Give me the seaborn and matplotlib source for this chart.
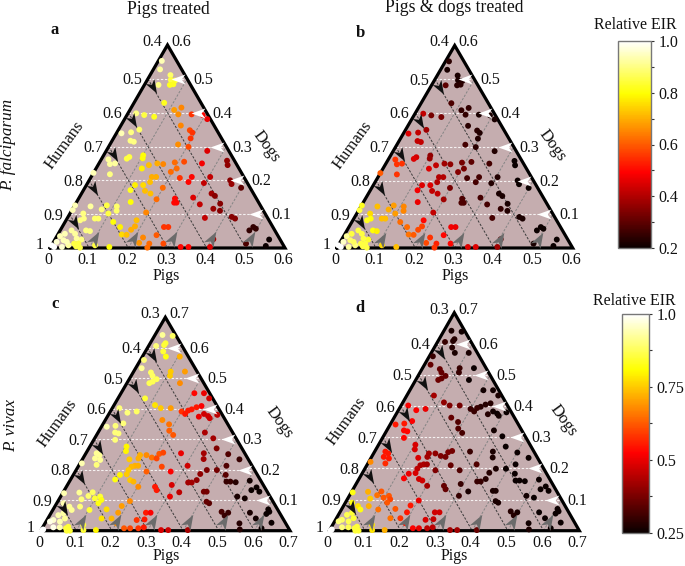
import numpy as np
import matplotlib
matplotlib.use("Agg")
import matplotlib.pyplot as plt
from matplotlib.path import Path
from matplotlib.markers import MarkerStyle
from matplotlib.transforms import Affine2D
from matplotlib.colors import Normalize
from matplotlib.cm import ScalarMappable
from matplotlib.ticker import FixedLocator
import seaborn as sns

top_pigs = [.009,.017,.052,.06,.072,.065,.073,.036,.077,.113,
 .128,.13,.164,.193,.211,.044,.072,.021,.153,.183,
 .193,.197,.013,.036,.047,.057,.053,.101,.104,.068,
 .064,.174,.204,.258,.323,.331,.263,.215,.192,.206,
 .165,.149,.13,.117,.196,.018,.029,.041,.044,0,
 .155,.166,.158,.124,.145,.228,.257,.256,.304,.297,
 .36,.369,.399,.199,.158,.176,.2,.246,.256,.25,
 .291,.332,.344,.318,.359,.379,.369,.12,.138,.109,
 .115,.082,.075,.042,.001,.034,.043,.08,.071,.098,
 .123,.148,.18,.193,.351,.418,.429,.488,.483,.497,
 .547,.548,.26,.271,.185,.18,.163,.176,.222,.253,
 .247,.22,.248,.283,.332,.352,.407,.404,.494,.15,
 .111,.066,.077,.068,.008,.008,.023,.029,.043,.054,
 .066,.076,.064,.055,0,.009,.043,.029,.017,.034,
 .002,.036]
top_dogs = [.553,.528,.511,.497,.495,.482,.484,.482,.429,.408,
 .415,.395,.395,.393,.381,.393,.388,.398,.362,.348,
 .341,.324,.339,.342,.317,.314,.35,.274,.265,.269,
 .264,.306,.299,.287,.258,.245,.25,.255,.253,.235,
 .248,.25,.245,.235,.225,.262,.248,.25,.218,.222,
 .21,.21,.195,.186,.186,.207,.21,.195,.21,.192,
 .2,.189,.178,.178,.169,.161,.144,.146,.134,.134,
 .149,.161,.154,.129,.116,.11,.131,.171,.136,.123,
 .11,.126,.114,.123,.126,.102,.087,.087,.087,.102,
 .077,.062,.082,.105,.089,.092,.087,.062,.052,.057,
 .025,.006,.062,.062,.064,.054,.04,.039,.031,.038,
 .013,.015,.001,.013,.003,.003,.003,.026,.013,.003,
 .008,.052,.05,.025,.035,.018,.023,.052,.042,.028,
 .013,.001,.005,.013,.008,.003,.008,.003,.042,.018,
 .112,.082]
eir_a = [.94,.92,.88,.85,.84,.82,.82,.9,.82,.68,
 .65,.66,.55,.5,.47,.85,.82,.9,.65,.58,
 .55,.55,.94,.9,.9,.9,.88,.8,.8,.85,
 .85,.66,.58,.45,.36,.36,.48,.58,.62,.62,
 .65,.7,.72,.78,.62,.92,.92,.92,.9,.94,
 .7,.7,.72,.78,.75,.55,.5,.5,.42,.42,
 .35,.37,.3,.62,.72,.72,.62,.5,.5,.5,
 .45,.38,.35,.42,.37,.35,.35,.82,.8,.88,
 .88,.85,.89,.92,.94,.9,.9,.88,.88,.85,
 .8,.78,.72,.65,.42,.35,.35,.25,.25,.25,
 .2,.2,.55,.55,.7,.7,.75,.72,.65,.6,
 .62,.67,.62,.58,.5,.5,.45,.38,.28,.8,
 .85,.9,.9,.9,.94,.96,.94,.92,.92,.92,
 .85,.85,.85,.85,1,1,.92,.96,.94,.94,
 .94,.9]
eir_b = [.24,.22,.22,.22,.23,.24,.24,.3,.28,.25,
 .25,.25,.22,.22,.22,.33,.33,.42,.24,.24,
 .23,.23,.45,.42,.42,.42,.38,.36,.37,.44,
 .45,.27,.24,.23,.2,.2,.27,.3,.33,.33,
 .36,.38,.42,.45,.35,.55,.55,.55,.55,.6,
 .4,.4,.4,.45,.45,.27,.27,.27,.23,.23,
 .2,.2,.2,.33,.42,.42,.38,.28,.28,.28,
 .27,.22,.22,.27,.25,.23,.22,.48,.47,.65,
 .65,.68,.7,.72,.82,.75,.8,.72,.72,.68,
 .62,.62,.5,.42,.27,.22,.22,.2,.2,.2,
 .2,.2,.48,.47,.57,.58,.63,.6,.55,.5,
 .53,.58,.55,.5,.45,.45,.38,.3,.22,.72,
 .75,.8,.78,.83,.92,.95,.88,.85,.85,.85,
 .85,.85,.85,.85,1,1,.9,.92,.85,.87,
 .85,.82]

bottom_pigs = [.021,.051,.021,.043,.042,.05,.066,.105,.01,.017,
 .05,.06,.077,.07,.063,.104,.109,.144,.149,.206,
 .233,.256,.247,.235,.225,.217,.2,.214,.267,.282,
 .29,.306,.257,.076,.115,.136,.164,.02,.05,.074,
 .056,.015,.038,.048,.059,.06,.16,.186,.197,.215,
 .3,.333,.359,.103,.109,.03,.041,.051,.034,.049,
 .005,.155,.173,.192,.207,.216,.207,.132,.156,.267,
 .331,.34,.401,.441,.415,.158,.167,.15,.147,.235,
 .2,.306,.355,.367,.395,.428,.268,.131,.149,.125,
 .168,.18,.202,.259,.249,.293,.335,.345,.355,.326,
 .394,.402,.441,.452,.468,.505,.535,.55,.525,.52,
 .496,.428,.418,.307,.083,.004,.046,.077,.063,.099,
 .111,.12,.117,.187,.188,.202,.15,.103,.071,.041,
 .019,.053,.035,.024,.048,.039,.018,.011,.03,.048,
 .071,.073,.082,.067,.005,.003,.11,.119,.154,.151,
 .179,.201,.23,.247,.252,.266,.279,.273,.27,.284,
 .337,.357,.412,.477,.497,.492,.557,.558,.584,.616,
 .635,.611,.604,.606,.546]
bottom_dogs = [.642,.639,.606,.615,.609,.588,.571,.571,.56,.533,
 .519,.508,.497,.489,.484,.522,.508,.522,.484,.451,
 .451,.434,.409,.405,.398,.394,.391,.383,.383,.376,
 .369,.38,.374,.434,.412,.402,.402,.402,.387,.391,
 .352,.341,.344,.322,.319,.298,.363,.349,.328,.314,
 .322,.303,.27,.276,.261,.254,.248,.232,.237,.216,
 .221,.248,.248,.24,.252,.256,.237,.234,.237,.254,
 .254,.235,.251,.234,.213,.213,.213,.21,.199,.21,
 .194,.213,.186,.199,.199,.183,.194,.183,.185,.168,
 .166,.161,.144,.133,.144,.15,.158,.158,.166,.126,
 .128,.128,.161,.161,.159,.164,.142,.128,.133,.106,
 .112,.09,.095,.112,.126,.123,.125,.114,.103,.106,
 .112,.101,.09,.081,.059,.097,.07,.068,.079,.079,
 .09,.068,.057,.051,.04,.03,.035,.03,.011,.011,
 .013,0,0,.008,.004,0,.019,.002,.002,.04,
 .04,.024,.008,.008,.035,.059,.059,.037,.008,.011,
 .002,.002,.002,.062,.059,.049,.004,.059,.04,.008,
 .026,.062,.07,.055,.024]
eir_c = [.92,.88,.9,.85,.85,.85,.82,.72,.9,.92,
 .88,.88,.87,.87,.87,.75,.75,.7,.68,.53,
 .5,.47,.52,.55,.55,.55,.58,.55,.47,.47,
 .47,.45,.5,.85,.78,.75,.7,.9,.9,.88,
 .9,.94,.9,.9,.9,.9,.68,.65,.63,.62,
 .43,.42,.38,.8,.8,.92,.92,.92,.92,.9,
 .94,.72,.68,.65,.62,.6,.6,.75,.72,.5,
 .42,.42,.33,.3,.33,.72,.72,.73,.75,.6,
 .63,.47,.4,.38,.37,.34,.52,.8,.75,.82,
 .75,.73,.68,.55,.55,.48,.42,.42,.4,.45,
 .37,.37,.3,.3,.28,.26,.25,.25,.25,.26,
 .27,.34,.35,.5,.88,.94,.92,.89,.9,.85,
 .85,.82,.82,.7,.7,.68,.77,.85,.9,.92,
 .94,.92,.93,.94,.92,.94,.96,.98,.98,.94,
 .85,.85,.85,.85,1,1,.85,.85,.8,.78,
 .73,.68,.62,.6,.58,.55,.52,.55,.58,.55,
 .48,.47,.42,.32,.3,.3,.28,.27,.26,.25,
 .25,.25,.25,.25,.28]
eir_d = [.27,.26,.3,.28,.28,.28,.27,.27,.3,.35,
 .35,.35,.35,.35,.36,.3,.3,.25,.25,.26,
 .26,.27,.28,.28,.28,.3,.3,.3,.26,.25,
 .26,.25,.28,.42,.4,.38,.37,.52,.52,.5,
 .52,.55,.55,.53,.53,.53,.35,.33,.33,.32,
 .26,.25,.25,.48,.48,.55,.55,.55,.55,.57,
 .68,.42,.4,.38,.38,.37,.37,.48,.42,.3,
 .27,.27,.25,.25,.25,.43,.42,.43,.45,.35,
 .38,.33,.28,.27,.25,.25,.33,.5,.48,.52,
 .47,.47,.42,.35,.35,.3,.3,.3,.28,.27,
 .27,.27,.25,.25,.25,.25,.25,.25,.25,.25,
 .26,.27,.27,.3,.62,.82,.72,.65,.75,.62,
 .62,.6,.62,.55,.55,.5,.62,.65,.72,.78,
 .82,.82,.85,.87,.85,.87,.88,.9,.9,.87,
 .85,.85,.85,.85,1,1,.78,.78,.72,.65,
 .58,.55,.52,.5,.48,.47,.47,.46,.45,.45,
 .42,.42,.35,.28,.27,.28,.27,.25,.25,.25,
 .25,.25,.25,.25,.26]

species = ["P. falciparum", "P. vivax"]
treatments = ["Pigs treated", "Pigs & dogs treated"]

W, H = 685, 566
sns.set_theme(style="white")
plt.rcParams["font.family"] = ["Liberation Serif", "DejaVu Serif"]
fig = plt.figure(figsize=(W / 100, H / 100), dpi=100, facecolor="white")

FILL = "#C5ADAF"
HEAD = Path([(1, 0), (-1, .72), (-.45, 0), (-1, -.72), (1, 0)],
            [Path.MOVETO, Path.LINETO, Path.LINETO, Path.LINETO, Path.CLOSEPOLY])


def head(angle):
    return MarkerStyle(HEAD, transform=Affine2D().rotate_deg(angle))


def panel(bl, br, top_y, S, pigs, dogs, eir, norm, tag, tag_xy):
    left, right = bl[0], br
    ax = fig.add_axes([left / W, 1 - bl[1] / H, (right - left) / W, (bl[1] - top_y) / H])
    ax.set_xlim(0, S)
    ax.set_ylim(0, S)
    ax.set_axis_off()
    xf = lambda p, d: p + d / 2
    ax.fill([0, S, S / 2], [0, 0, S], color=FILL, zorder=0, lw=0)
    unit = (right - left) / S
    n = int(round(S * 10))
    for i in range(1, n):
        v = i / 10
        ax.plot([xf(0, v), xf(v, 0)], [v, 0], color="#3a3a3a", lw=.7, ls=(0, (2.4, 1.6)), zorder=1)
        ax.plot([xf(v, 0), xf(v, S - v)], [0, S - v], color="#858585", lw=.7, ls=(0, (2.4, 1.6)), zorder=1)
        ax.plot([xf(0, v), xf(S - v, v)], [v, v], color="white", lw=.8, alpha=.85,
                ls=(0, (2.2, 1.5)), zorder=1)
    ax.plot([0, S, S / 2, 0], [0, 0, S, 0], color="black", lw=2.3, zorder=2,
            solid_joinstyle="miter", clip_on=False)

    sns.scatterplot(x=[xf(p, d) for p, d in zip(pigs, dogs)], y=dogs, hue=eir, palette="hot",
                    hue_norm=norm, s=18, linewidth=0, legend=False, ax=ax, clip_on=False, zorder=3)
    ax.set_xlim(0, S)
    ax.set_ylim(0, S)

    for i in range(1, n):
        v = i / 10
        t = 10 / unit
        ax.plot([xf(t, v - t)], [v - t], marker=head(-60), ms=10, color="#111111", mew=0, zorder=4, clip_on=False)
        t = 11 / unit
        ax.plot([xf(v, t)], [t], marker=head(60), ms=11, color="#6b6b6b", mew=0, zorder=4, clip_on=False)
        t = 9 / unit
        ax.plot([xf(S - v - t, v)], [v], marker=head(180), ms=10, color="white", mew=0, zorder=4, clip_on=False)

    def lab(x, y, s, dx, dy, ha):
        ax.annotate(s, (x, y), xytext=(dx, dy), textcoords="offset pixels", ha=ha, va="center",
                    fontsize=11.5, color="#111111", annotation_clip=False)

    for i in range(0, n + 1):
        v = i / 10
        base = "0" if i == 0 else f"{v:.1f}"
        lab(v, 0, base, -1.5, -12, "center")
        hum = 1 - v
        hs = "1" if i == 0 else f"{hum:.1f}"
        if i == 0:
            lab(0, 0, hs, -6, 3, "right")
        elif i == n:
            lab(S / 2, S, hs, -5.5, 3, "right")
            lab(S / 2, S, f"{v:.1f}", 4, 3, "left")
        else:
            lab(xf(0, v), v, hs, -6, -1.5, "right")
            lab(xf(S - v, v), v, f"{v:.1f}", 6, -1, "left")
    fig.text(tag_xy[0] / W, 1 - tag_xy[1] / H, tag, fontsize=12, fontweight="bold",
             ha="center", va="center", color="#111111")
    return ax


def txt(x, y, s, size, **kw):
    fig.text(x / W, 1 - y / H, s, fontsize=size, ha="center", va="center", color="#111111", **kw)


norm_top = Normalize(.2, 1.0)
norm_bot = Normalize(.25, 1.0)
panel((50, 248), 285, 45, .6, top_pigs, top_dogs, eir_a, norm_top, "a", (55, 30))
panel((336.7, 248), 572.7, 45.5, .6, top_pigs, top_dogs, eir_b, norm_top, "b", (360, 33))
panel((40.7, 530.7), 290, 317.3, .7, bottom_pigs, bottom_dogs, eir_c, norm_bot, "c", (55, 304))
panel((329.3, 530.7), 579.3, 312.7, .7, bottom_pigs, bottom_dogs, eir_d, norm_bot, "d", (360, 308))

txt(168, 9.5, treatments[0], 12.7)
txt(454, 7.5, treatments[1], 12.7)
for x, y in [(166, 276), (455, 276), (166, 556.5), (454, 556.5)]:
    txt(x, y, "Pigs", 11.5)
for x, y in [(65, 145), (353, 145), (58, 423), (347, 421)]:
    txt(x, y, "Humans", 12, rotation=54)
for x, y in [(266, 147), (552, 146), (279, 423), (563, 421)]:
    txt(x, y, "Dogs", 12, rotation=-54)
txt(8.5, 145, species[0], 12.3, rotation=90, style="italic")
txt(11, 425, species[1], 12.3, rotation=90, style="italic")
txt(635, 25, "Relative EIR", 11.5)
txt(634, 301, "Relative EIR", 11.5)


def cbar(x0, x1, y0, y1, norm, ticks, minor, fmt):
    cax = fig.add_axes([x0 / W, 1 - y1 / H, (x1 - x0) / W, (y1 - y0) / H])
    cb = fig.colorbar(ScalarMappable(norm=norm, cmap="hot"), cax=cax)
    cb.outline.set_edgecolor("#777777")
    cb.outline.set_linewidth(1.0)
    cb.set_ticks(ticks)
    cb.set_ticklabels([fmt(t) for t in ticks])
    cax.yaxis.set_minor_locator(FixedLocator(minor))
    cax.tick_params(axis="y", which="major", length=2.5, width=.8, color="#333333", labelsize=11.5,
                    pad=3, right=True, labelcolor="#111111")
    cax.tick_params(axis="y", which="minor", length=2.5, width=.8, color="#333333", right=True)


cbar(618, 650.7, 41, 248, norm_top, [.2, .4, .6, .8, 1.0], [.3, .5, .7, .9], lambda t: f"{t:.1f}")
cbar(621.7, 649, 314, 532.7, norm_bot, [.25, .5, .75, 1.0], [.375, .625, .875],
     lambda t: "1.0" if t == 1 else ("0.5" if t == .5 else f"{t:.2f}"))

fig.savefig("out.png", dpi=100, facecolor="white")
